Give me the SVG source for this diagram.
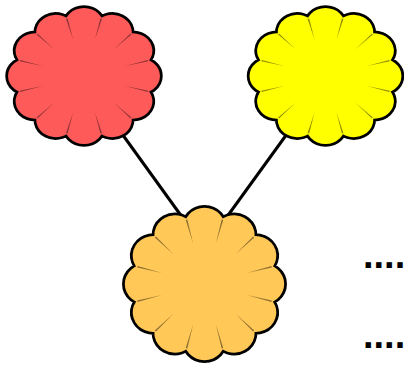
<svg xmlns="http://www.w3.org/2000/svg" width="404" height="365" viewBox="0 0 404 365">
  <style>
    .flower { stroke: #000; stroke-width: 5.5; paint-order: stroke fill; stroke-linejoin: round; }
    .edge { stroke: #000; stroke-width: 3; fill: none; }
    .seam { fill: #000; fill-opacity: 0.45; }
    .dots { font-family: "Liberation Sans", Arial, sans-serif; font-weight: bold; font-size: 38px; fill: #000; }
  </style>
  <defs>
    <path id="flowerA" d="M -10.79 -36.01 A 19.48 17.42 0 1 1 10.79 -36.01 A 19.48 17.42 0 1 1 29.47 -26.36 A 19.48 17.42 0 1 1 40.27 -9.65 A 19.48 17.42 0 1 1 40.27 9.65 A 19.48 17.42 0 1 1 29.47 26.36 A 19.48 17.42 0 1 1 10.79 36.01 A 19.48 17.42 0 1 1 -10.79 36.01 A 19.48 17.42 0 1 1 -29.47 26.36 A 19.48 17.42 0 1 1 -40.27 9.65 A 19.48 17.42 0 1 1 -40.27 -9.65 A 19.48 17.42 0 1 1 -29.47 -26.36 A 19.48 17.42 0 1 1 -10.79 -36.01 Z"/>
    <path id="flowerB" d="M -11.32 -40.43 A 20.44 19.56 0 1 1 11.32 -40.43 A 20.44 19.56 0 1 1 30.93 -29.59 A 20.44 19.56 0 1 1 42.25 -10.84 A 20.44 19.56 0 1 1 42.25 10.84 A 20.44 19.56 0 1 1 30.93 29.59 A 20.44 19.56 0 1 1 11.32 40.43 A 20.44 19.56 0 1 1 -11.32 40.43 A 20.44 19.56 0 1 1 -30.93 29.59 A 20.44 19.56 0 1 1 -42.25 10.84 A 20.44 19.56 0 1 1 -42.25 -10.84 A 20.44 19.56 0 1 1 -30.93 -29.59 A 20.44 19.56 0 1 1 -11.32 -40.43 Z"/>
    <polygon id="seam" class="seam" points="-0.8,-68 0.8,-68 0,-43"/>
    <g id="seams">
      <use href="#seam" transform="rotate(-15)"/>
      <use href="#seam" transform="rotate(15)"/>
      <use href="#seam" transform="rotate(45)"/>
      <use href="#seam" transform="rotate(75)"/>
      <use href="#seam" transform="rotate(105)"/>
      <use href="#seam" transform="rotate(135)"/>
      <use href="#seam" transform="rotate(165)"/>
      <use href="#seam" transform="rotate(195)"/>
      <use href="#seam" transform="rotate(225)"/>
      <use href="#seam" transform="rotate(255)"/>
      <use href="#seam" transform="rotate(285)"/>
      <use href="#seam" transform="rotate(315)"/>
    </g>
  </defs>
  <g id="connectors">
    <line class="edge" x1="117.8" y1="128" x2="187.8" y2="225"/>
    <line class="edge" x1="292" y1="127" x2="221" y2="225"/>
  </g>
  <g id="node-red">
    <use href="#flowerA" class="flower" fill="#ff5a5a" transform="translate(84,76)"/>
    <use href="#seams" transform="translate(84,76) scale(0.974,0.871)"/>
  </g>
  <g id="node-yellow">
    <use href="#flowerA" class="flower" fill="#ffff00" transform="translate(325.5,76)"/>
    <use href="#seams" transform="translate(325.5,76) scale(0.974,0.871)"/>
  </g>
  <g id="node-orange">
    <use href="#flowerB" class="flower" fill="#ffc857" transform="translate(204.5,284)"/>
    <use href="#seams" transform="translate(204.5,284) scale(1.022,0.978)"/>
  </g>
  <g id="dots">
    <text class="dots" x="363" y="267.5">....</text>
    <text class="dots" x="363" y="347.5">....</text>
  </g>
</svg>
